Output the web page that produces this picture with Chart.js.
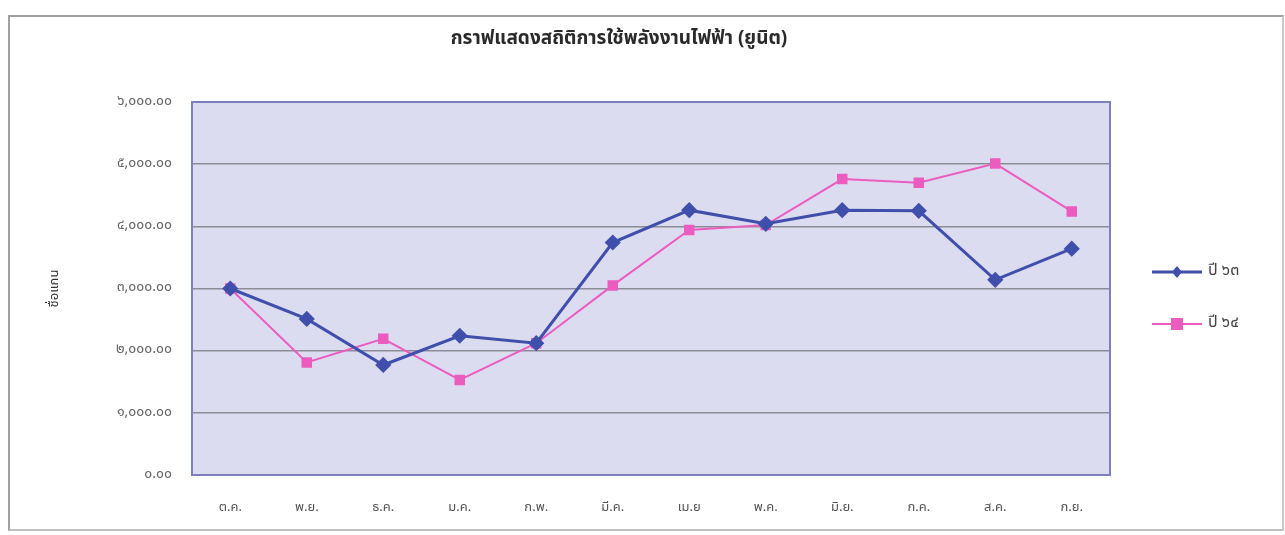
<!DOCTYPE html>
<html>
<head>
<meta charset="utf-8">
<script src="https://cdn.jsdelivr.net/npm/chart.js@4"></script>
<style>
  body { margin: 0; background: #fff; }
  #box {
    position: absolute; left: 8px; top: 15px;
    width: 1272px; height: 512px;
    border: 2px solid #a0a0a0; border-right-color: #c8c8c8; border-bottom-color: #c0c0c0;
  }
  canvas { display: block; }
</style>
</head>
<body>
<div id="box"><canvas id="elecChart" width="1272" height="512"></canvas></div>
<script>
const months = ["ต.ค.", "พ.ย.", "ธ.ค.", "ม.ค.", "ก.พ.", "มี.ค.", "เม.ย", "พ.ค.", "มิ.ย.", "ก.ค.", "ส.ค.", "ก.ย."];
const year63 = [3000, 2510, 1770, 2240, 2120, 3740, 4260, 4040, 4260, 4250, 3140, 3640];
const year64 = [3000, 1810, 2190, 1530, 2120, 3050, 3940, 4020, 4760, 4700, 5010, 4240];
const yTicks = [0, 1000, 2000, 3000, 4000, 5000, 6000];

const titleText = "กราฟแสดงสถิติการใช้พลังงานไฟฟ้า (ยูนิต)";
const fontFam = "'Noto Sans Thai', 'Noto Sans', Tahoma, sans-serif";

// arabic digits -> thai digits
function thaiNum(s) {
  return String(s).replace(/[0-9]/g, d => "๐๑๒๓๔๕๖๗๘๙"[d]);
}

const canvas = document.getElementById("elecChart");

// plot background, title and the line+marker legend
const decor = {
  id: "decor",
  beforeDraw(chart) {
    const { ctx, chartArea: a } = chart;
    ctx.save();
    ctx.fillStyle = "#dcdcf1";
    ctx.fillRect(a.left, a.top, a.right - a.left, a.bottom - a.top);
    ctx.restore();
  },
  afterDraw(chart) {
    const { ctx, chartArea: a } = chart;
    ctx.save();
    ctx.strokeStyle = "#7f7fc0";
    ctx.lineWidth = 2;
    ctx.strokeRect(a.left, a.top, a.right - a.left, a.bottom - a.top);

    ctx.fillStyle = "#2a2a2a";
    ctx.font = "bold 19px " + fontFam;
    ctx.textAlign = "center";
    ctx.textBaseline = "middle";
    ctx.fillText(titleText, 609, 23);

    chart.data.datasets.forEach((ds, i) => {
      const y = 255 + i * 52;
      ctx.strokeStyle = ds.borderColor;
      ctx.lineWidth = ds.borderWidth;
      ctx.beginPath();
      ctx.moveTo(1142, y);
      ctx.lineTo(1192, y);
      ctx.stroke();
      ctx.fillStyle = ds.backgroundColor;
      ctx.beginPath();
      if (ds.pointStyle === "rectRot") {
        ctx.moveTo(1167, y - 6); ctx.lineTo(1172, y); ctx.lineTo(1167, y + 6); ctx.lineTo(1162, y);
      } else {
        ctx.rect(1161, y - 6, 12, 12);
      }
      ctx.fill();
      ctx.fillStyle = "#444";
      ctx.font = "16px " + fontFam;
      ctx.textAlign = "left";
      ctx.fillText(ds.label, 1198, y);
    });
    ctx.restore();
  }
};

new Chart(canvas, {
  type: "line",
  data: {
    labels: months,
    datasets: [
      {
        label: "ปี ๖๓",
        data: year63,
        borderColor: "#3f4fab",
        backgroundColor: "#3f4fab",
        borderWidth: 3,
        pointStyle: "rectRot",
        pointRadius: 6,
        pointHoverRadius: 6,
        tension: 0
      },
      {
        label: "ปี ๖๔",
        data: year64,
        borderColor: "#ec5cbf",
        backgroundColor: "#ec5cbf",
        borderWidth: 2,
        pointStyle: "rect",
        pointRadius: 6,
        pointHoverRadius: 6,
        tension: 0
      }
    ]
  },
  options: {
    responsive: false,
    animation: false,
    layout: { padding: { top: 85, right: 172, bottom: 0, left: 38 } },
    plugins: {
      legend: { display: false },
      title: { display: false },
      tooltip: { enabled: false }
    },
    scales: {
      x: {
        offset: true,
        grid: { display: false, drawTicks: false },
        border: { display: false },
        ticks: {
          padding: 26,
          color: "#555",
          font: { family: fontFam, size: 13 }
        },
        afterFit(scale) { scale.height = 54; }
      },
      y: {
        min: 0,
        max: 6000,
        afterBuildTicks(scale) { scale.ticks = yTicks.map(v => ({ value: v })); },
        grid: { color: "#8c8c96", lineWidth: 1.5, drawTicks: false },
        border: { display: false },
        ticks: {
          padding: 20,
          color: "#666",
          font: { family: fontFam, size: 14 },
          callback: v => thaiNum(v.toLocaleString("en-US", { minimumFractionDigits: 2 }))
        },
        title: {
          display: true,
          text: "ชื่อแกน",
          color: "#333",
          font: { family: fontFam, size: 13 },
          padding: { top: 0, bottom: 0 }
        },
        afterFit(scale) { scale.width = 144; }
      }
    }
  },
  plugins: [decor]
});
</script>
</body>
</html>
